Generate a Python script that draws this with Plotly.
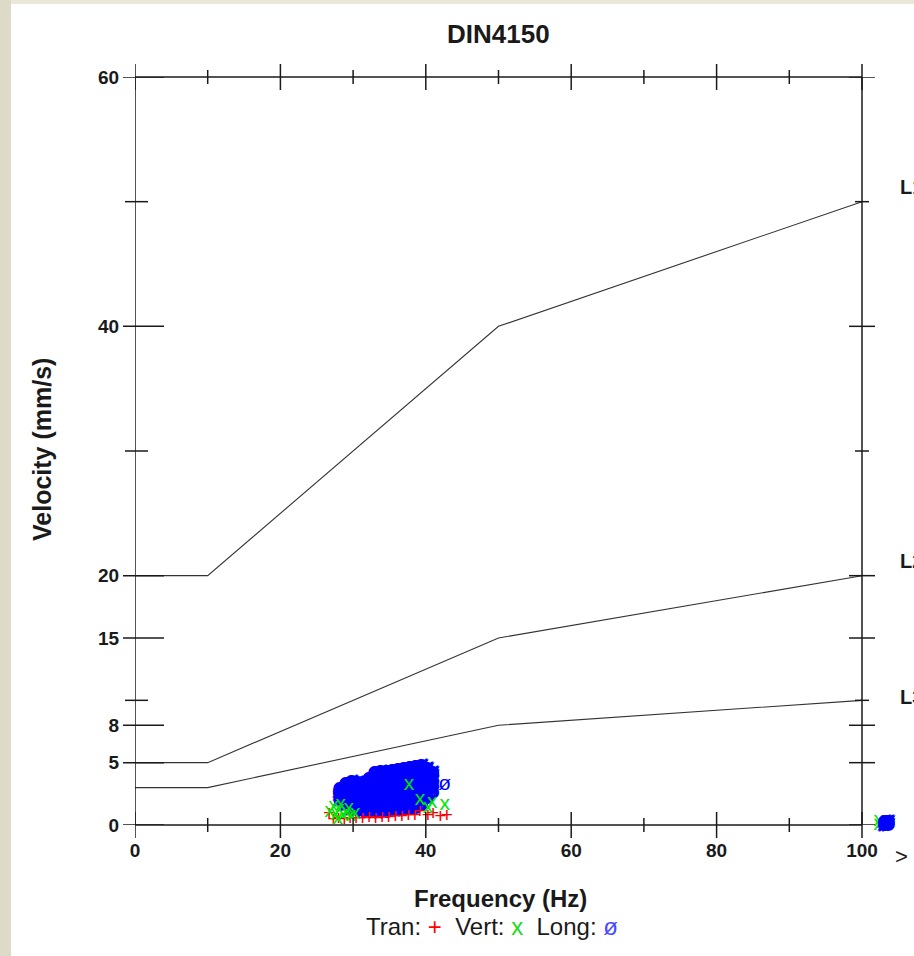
import plotly.graph_objects as go

# ---------------- data ----------------
title_text = "DIN4150"
x_title = "Frequency (Hz)"
y_title = "Velocity (mm/s)"

limit_freq = [0, 10, 50, 100]
limit_L1 = [20, 20, 40, 50]
limit_L2 = [5, 5, 15, 20]
limit_L3 = [3, 3, 8, 10]
limit_names = ["L1", "L2", "L3"]
limit_label_vel = [51.2, 21.2, 10.3]

x_tick_major = [0, 20, 40, 60, 80, 100]
x_tick_minor = [10, 30, 50, 70, 90]
y_tick_major = [0, 5, 8, 15, 20, 40, 60]
y_tick_minor = [10, 30, 50]

# Tran (red +)
tran_freq = [26.7, 27.3, 28.0, 28.8, 29.6, 30.4, 31.3, 32.2, 33.1, 34.0, 34.9, 35.8,
             36.7, 37.6, 38.5, 39.2, 40.3, 41.0, 42.0, 42.9]
tran_vel = [0.8, 0.35, 0.45, 0.35, 0.45, 0.4, 0.45, 0.5, 0.45, 0.5, 0.5, 0.55,
            0.6, 0.7, 0.65, 0.95, 0.7, 0.8, 0.6, 0.65]

# Vert (green x)
vert_freq = [26.8, 27.3, 27.6, 28.1, 28.6, 29.1, 29.7, 30.3, 28.3, 27.9, 29.4,
             40.3, 40.9, 42.6, 39.2, 37.7]
vert_vel = [1.1, 1.5, 0.8, 1.2, 0.8, 1.0, 0.75, 0.9, 1.6, 0.5, 1.3,
            1.35, 1.75, 1.6, 2.0, 3.2]
# events above 100 Hz, drawn just past the right axis
vert_over_freq = [102.3, 102.3]
vert_over_vel = [0.35, 0.0]

# Long (blue ø)
long_freq = [28.1,
             28.2, 28.2, 28.2,
             29.0, 29.0, 29.0, 29.0, 29.0,
             29.8, 29.8, 29.8, 29.8, 29.8, 29.8,
             30.6, 30.6, 30.6, 30.6, 30.6, 30.6,
             31.4, 31.4, 31.4, 31.4, 31.4, 31.4,
             32.2, 32.2, 32.2, 32.2, 32.2, 32.2, 32.2,
             33.0, 33.0, 33.0, 33.0, 33.0, 33.0, 33.0, 33.0,
             33.8, 33.8, 33.8, 33.8, 33.8, 33.8, 33.8, 33.8,
             34.6, 34.6, 34.6, 34.6, 34.6, 34.6, 34.6, 34.6,
             35.4, 35.4, 35.4, 35.4, 35.4, 35.4, 35.4, 35.4,
             36.2, 36.2, 36.2, 36.2, 36.2, 36.2, 36.2, 36.2,
             37.0, 37.0, 37.0, 37.0, 37.0, 37.0, 37.0, 37.0,
             37.8, 37.8, 37.8, 37.8, 37.8, 37.8, 37.8, 37.8,
             38.6, 38.6, 38.6, 38.6, 38.6, 38.6, 38.6, 38.6,
             39.4, 39.4, 39.4, 39.4, 39.4, 39.4, 39.4, 39.4,
             40.2, 40.2, 40.2, 40.2, 40.2, 40.2,
             40.9, 40.9, 40.9, 40.9, 40.9]
long_vel = [2.65,
            2.0, 2.45, 2.9,
            1.6, 2.05, 2.5, 2.95, 3.3,
            1.3, 1.75, 2.2, 2.65, 3.1, 3.45,
            1.2, 1.65, 2.1, 2.55, 3.0, 3.4,
            1.15, 1.6, 2.05, 2.5, 2.95, 3.35,
            1.1, 1.55, 2.0, 2.45, 2.9, 3.35, 3.7,
            1.1, 1.55, 2.0, 2.45, 2.9, 3.35, 3.8, 4.2,
            1.1, 1.55, 2.0, 2.45, 2.9, 3.35, 3.8, 4.3,
            1.1, 1.55, 2.0, 2.45, 2.9, 3.35, 3.8, 4.3,
            1.15, 1.6, 2.05, 2.5, 2.95, 3.4, 3.85, 4.35,
            1.2, 1.65, 2.1, 2.55, 3.0, 3.45, 3.9, 4.4,
            1.25, 1.7, 2.15, 2.6, 3.05, 3.5, 3.95, 4.5,
            1.3, 1.75, 2.2, 2.65, 3.1, 3.55, 4.0, 4.6,
            1.4, 1.85, 2.3, 2.75, 3.2, 3.65, 4.1, 4.7,
            1.6, 2.05, 2.5, 2.95, 3.4, 3.85, 4.3, 4.75,
            2.2, 2.65, 3.1, 3.55, 4.0, 4.55,
            2.6, 3.05, 3.5, 3.95, 4.2]
long_single_freq = [42.6]
long_single_vel = [3.2]
long_over_freq = [103.1, 103.6, 103.1, 103.6, 103.35]
long_over_vel = [0.3, 0.3, 0.0, 0.0, 0.15]

# ---------------- styles ----------------
FONT = "Liberation Sans, Arial, sans-serif"
INK = "#1a1a1a"
RED = "#ff0000"
GREEN = "#00e600"
BLUE = "#0000ff"

W, H = 914, 956
ML, MT, MB = 135, 77, 131
FRAME_W = 727          # pixel width of the 0..100 Hz frame
PH = H - MT - MB       # 748
X_FRAME = [0, 100]
Y_FRAME = [0, 60]
PW = 763               # plot area continues past 100 Hz for the ">100" events
MR = W - ML - PW
X_RANGE_MAX = X_FRAME[1] * PW / FRAME_W

def px_x(px):
    return (px - ML) / PW

def px_y(py):
    return (MT + PH - py) / PH

def dom_x(f):
    return (f - X_FRAME[0]) / (X_RANGE_MAX - X_FRAME[0])

fig = go.Figure()

for name, vals in zip(limit_names, [limit_L1, limit_L2, limit_L3]):
    fig.add_trace(go.Scatter(x=limit_freq, y=vals, mode="lines",
                             line=dict(color="#333333", width=1.1),
                             hoverinfo="skip", showlegend=False, name=name))

def glyph_trace(xs, ys, ch, color, size=21, weight="normal", shadow="none"):
    return go.Scatter(x=xs, y=ys, mode="text", text=[ch] * len(xs),
                      textposition="middle center",
                      textfont=dict(family=FONT, size=size, color=color, weight=weight,
                                    shadow=shadow),
                      cliponaxis=False, showlegend=False, hoverinfo="skip")

thick = "1px 0 0 #0000ff, -1px 0 0 #0000ff, 0 1px 0 #0000ff, 0 -1px 0 #0000ff"
fig.add_trace(glyph_trace(vert_over_freq, vert_over_vel, "x", GREEN))
fig.add_trace(glyph_trace(long_over_freq, long_over_vel, "ø", BLUE, weight="bold", shadow=thick))
fig.add_trace(glyph_trace(long_freq, long_vel, "ø", BLUE, weight="bold", shadow=thick))
fig.add_trace(glyph_trace(long_single_freq, long_single_vel, "ø", BLUE))
fig.add_trace(glyph_trace(tran_freq, tran_vel, "+", RED))
fig.add_trace(glyph_trace(vert_freq, vert_vel, "x", GREEN))

shapes = []
# background strips
shapes.append(dict(type="rect", xref="paper", yref="paper",
                   x0=px_x(-5), x1=px_x(11), y0=px_y(H + 5), y1=px_y(-5),
                   fillcolor="#dddac8", line=dict(width=0), layer="below"))
shapes.append(dict(type="rect", xref="paper", yref="paper",
                   x0=px_x(11), x1=px_x(W + 5), y0=px_y(4), y1=px_y(-5),
                   fillcolor="#ebe8da", line=dict(width=0), layer="below"))

tick_line = dict(color=INK, width=1.5)
# frame (x data + y domain -> not clipped to the plot area)
for f in X_FRAME:
    shapes.append(dict(type="line", xref="x", yref="y domain", x0=f, x1=f, y0=0, y1=1,
                       line=tick_line))
for yd in [0, 1]:
    shapes.append(dict(type="line", xref="x", yref="y domain", x0=X_FRAME[0], x1=X_FRAME[1],
                       y0=yd, y1=yd, line=tick_line))

def ytick(v, out_l, in_l, out_r, in_r):
    shapes.append(dict(type="line", xref="x domain", yref="y", y0=v, y1=v,
                       x0=dom_x(X_FRAME[0]) - out_l / PW, x1=dom_x(X_FRAME[0]) + in_l / PW,
                       line=tick_line))
    shapes.append(dict(type="line", xref="x domain", yref="y", y0=v, y1=v,
                       x0=dom_x(X_FRAME[1]) - in_r / PW, x1=dom_x(X_FRAME[1]) + out_r / PW,
                       line=tick_line))

def xtick(f, out_b, in_b, out_t, in_t):
    shapes.append(dict(type="line", xref="x", yref="y domain", x0=f, x1=f,
                       y0=-out_b / PH, y1=in_b / PH, line=tick_line))
    shapes.append(dict(type="line", xref="x", yref="y domain", x0=f, x1=f,
                       y0=1 - in_t / PH, y1=1 + out_t / PH, line=tick_line))

for v in y_tick_major:
    ytick(v, 12, 29, 13, 13)
for v in y_tick_minor:
    ytick(v, 10, 13, 7, 7)
for f in x_tick_major:
    xtick(f, 13, 13, 13, 13)
for f in x_tick_minor:
    xtick(f, 7, 7, 7, 7)

annotations = []
for name, v in zip(limit_names, limit_label_vel):
    annotations.append(dict(text=name, xref="paper", yref="y", x=px_x(898), y=v,
                            xanchor="left", yanchor="middle", showarrow=False,
                            font=dict(family=FONT, size=20, color=INK, weight="bold")))
annotations.append(dict(text=">", xref="paper", yref="paper", x=px_x(901),
                        y=px_y(856), xanchor="center", yanchor="middle",
                        showarrow=False, font=dict(family=FONT, size=22, color=INK)))
annotations.append(dict(text=title_text, xref="paper", yref="paper", x=px_x(498.5),
                        y=px_y(34), xanchor="center", yanchor="middle",
                        showarrow=False, font=dict(family=FONT, size=26, color=INK, weight="bold")))
annotations.append(dict(text=x_title, xref="paper", yref="paper", x=px_x(500),
                        y=px_y(898), xanchor="center", yanchor="middle",
                        showarrow=False, font=dict(family=FONT, size=24, color=INK, weight="bold")))
annotations.append(dict(text=y_title, xref="paper", yref="paper", x=px_x(42),
                        y=px_y(450), xanchor="center", yanchor="middle",
                        textangle=-90, showarrow=False,
                        font=dict(family=FONT, size=25, color=INK, weight="bold")))
legend_text = ("Tran: <span style='color:%s'>+</span>  Vert: <span style='color:%s'>x</span>"
               "  Long: <span style='color:#4a4aff'>ø</span>") % (RED, "#1fd81f")
annotations.append(dict(text=legend_text, xref="paper", yref="paper", x=px_x(492),
                        y=px_y(926), xanchor="center", yanchor="middle",
                        showarrow=False, font=dict(family=FONT, size=24, color=INK)))

fig.update_layout(
    width=W, height=H,
    margin=dict(l=ML, r=MR, t=MT, b=MB, pad=0),
    paper_bgcolor="white", plot_bgcolor="white",
    showlegend=False,
    shapes=shapes, annotations=annotations,
    xaxis=dict(range=[X_FRAME[0], X_RANGE_MAX], tickmode="array", tickvals=x_tick_major,
               ticks="outside", ticklen=8, tickcolor="rgba(0,0,0,0)",
               showgrid=False, zeroline=False, showline=False,
               tickfont=dict(family=FONT, size=19, color=INK, weight="bold")),
    yaxis=dict(range=Y_FRAME, tickmode="array", tickvals=y_tick_major,
               ticks="outside", ticklen=11, tickcolor="rgba(0,0,0,0)",
               showgrid=False, zeroline=False, showline=False,
               tickfont=dict(family=FONT, size=19, color=INK, weight="bold")),
)

fig.write_html("out.html", config={"displayModeBar": False},
               post_script="document.body.style.margin='0';document.body.style.overflow='hidden';")
